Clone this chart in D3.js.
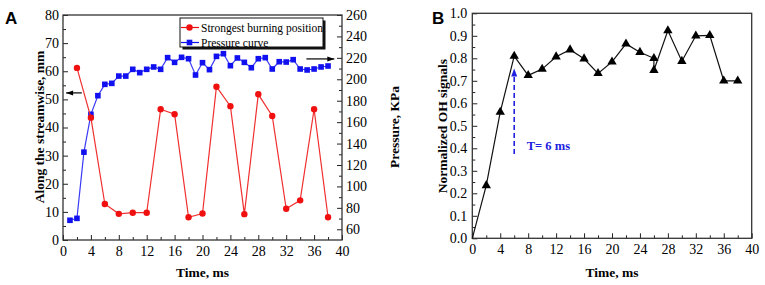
<!DOCTYPE html>
<meta charset="utf-8">
<style>
body { margin: 0; background: #fff; }
.axis path { display: none; }
.axis line { stroke: #222; stroke-width: 1; }
.frame { fill: none; stroke: #333; stroke-width: 1.3; }
</style>
<svg width="765" height="285"></svg>
<script src="https://d3js.org/d3.v7.min.js"></script>
<script>

// panel A data
var burnTime = [2, 4, 6, 8, 10, 12, 14, 16, 18, 20, 22, 24, 26, 28, 30, 32, 34, 36, 38];
var burnPosition = [61.2, 43.5, 12.8, 9.3, 9.7, 9.7, 46.5, 44.7, 8.1, 9.4, 54.5, 47.6, 9.2, 51.8, 44.1, 11.1, 14.1, 46.5, 8.1];
var pressureTime = [1, 2, 3, 4, 5, 6, 7, 8, 9, 10, 11, 12, 13, 14, 15, 16, 17, 18, 19, 20,
                    21, 22, 23, 24, 25, 26, 27, 28, 29, 30, 31, 32, 33, 34, 35, 36, 37, 38];
var pressure = [68.4, 70.2, 132, 167.3, 184.7, 195.3, 196.2, 203, 203, 209.3, 206.2, 209.3, 211.5, 209.3, 220.2, 215.8, 220.5, 219.2, 204, 215.5,
                209, 221.4, 223.9, 212.7, 219.9, 215.8, 210.8, 219.2, 220.2, 209.6, 216.4, 216.1, 218.3, 209.6, 208.7, 209.6, 211.5, 212.4];
var legendLabels = ["Strongest burning position", "Pressure curve"];

// panel B data
var ohTime = [0, 2, 4, 6, 8, 10, 12, 14, 16, 18, 20, 22, 24, 26, 26, 28, 30, 32, 34, 36, 38];
var ohSignal = [0.0, 0.235, 0.561, 0.81, 0.724, 0.752, 0.807, 0.838, 0.798, 0.733, 0.784, 0.864, 0.827, 0.80, 0.747, 0.923, 0.787, 0.90, 0.902, 0.70, 0.70];

var timeTicks = [0, 4, 8, 12, 16, 20, 24, 28, 32, 36, 40];
var timeMinor = [2, 6, 10, 14, 18, 22, 26, 30, 34, 38];

var svg = d3.select("svg");
var red = "#f01010", blue = "#1010f0";
var serif = "'Liberation Serif', 'Times New Roman', serif";

function arrowHead(g, x, y, dir, color) {
  // dir: "left", "right", "up"
  var p;
  if (dir == "left") p = [[x, y], [x + 7, y - 2.5], [x + 7, y + 2.5]];
  else if (dir == "right") p = [[x, y], [x - 7, y - 2.5], [x - 7, y + 2.5]];
  else p = [[x, y], [x - 3, y + 8], [x + 3, y + 8]];
  g.append("path").attr("d", d3.line()(p) + "Z").attr("fill", color);
}

function drawAxis(parent, tx, ty, axis) {
  var g = parent.append("g").attr("class", "axis")
    .attr("transform", "translate(" + tx + "," + ty + ")")
    .call(axis);
  g.selectAll("text")
    .style("font-family", serif).style("font-size", "14px").style("fill", "#000");
  return g;
}

function title(parent, txt, x, y, rotate) {
  return parent.append("text")
    .attr("text-anchor", "middle")
    .attr("transform", "translate(" + x + "," + y + ")" + (rotate ? " rotate(-90)" : ""))
    .style("font-family", serif).style("font-size", "13.5px").style("font-weight", "bold")
    .text(txt);
}

function panelLabel(parent, txt, x, y) {
  parent.append("text").attr("x", x).attr("y", y)
    .style("font-family", "'Liberation Sans', Arial, sans-serif")
    .style("font-size", "17px").style("font-weight", "bold").text(txt);
}

// ---------------- Panel A ----------------
var a = {left: 63, right: 342, top: 15, bottom: 240};
var xA = d3.scaleLinear().domain([0, 40]).range([a.left, a.right]);
var yPos = d3.scaleLinear().domain([0, 80]).range([a.bottom, a.top]);
var yPress = d3.scaleLinear().domain([50, 260]).range([a.bottom, a.top]);

var gA = svg.append("g");

drawAxis(gA, 0, a.bottom, d3.axisBottom(xA).tickValues(timeTicks).tickSizeInner(-5).tickSizeOuter(0).tickPadding(6).tickFormat(d3.format("d")));
drawAxis(gA, 0, a.bottom, d3.axisBottom(xA).tickValues(timeMinor).tickSizeInner(-3).tickSizeOuter(0).tickFormat(""));
drawAxis(gA, a.left, 0, d3.axisLeft(yPos).tickValues(d3.range(0, 81, 10)).tickSizeInner(-5).tickSizeOuter(0).tickPadding(4));
drawAxis(gA, a.left, 0, d3.axisLeft(yPos).tickValues(d3.range(5, 80, 10)).tickSizeInner(-3).tickSizeOuter(0).tickFormat(""));
drawAxis(gA, a.right, 0, d3.axisRight(yPress).tickValues(d3.range(60, 261, 20)).tickSizeInner(-5).tickSizeOuter(0).tickPadding(4));
drawAxis(gA, a.right, 0, d3.axisRight(yPress).tickValues(d3.range(70, 260, 20)).tickSizeInner(-3).tickSizeOuter(0).tickFormat(""));

gA.append("rect").attr("class", "frame")
  .attr("x", a.left).attr("y", a.top).attr("width", a.right - a.left).attr("height", a.bottom - a.top);

// pressure curve
gA.append("path")
  .datum(pressureTime.map(function(t, i) { return [xA(t), yPress(pressure[i])]; }))
  .attr("d", d3.line()).attr("fill", "none").attr("stroke", "#3a3af5").attr("stroke-width", 1.2);
gA.selectAll(".sq").data(pressureTime).enter().append("rect")
  .attr("x", function(t) { return xA(t) - 2.8; })
  .attr("y", function(t, i) { return yPress(pressure[i]) - 2.8; })
  .attr("width", 5.6).attr("height", 5.6).attr("fill", blue);

// burning position
gA.append("path")
  .datum(burnTime.map(function(t, i) { return [xA(t), yPos(burnPosition[i])]; }))
  .attr("d", d3.line()).attr("fill", "none").attr("stroke", "#f03030").attr("stroke-width", 1.2);
gA.selectAll(".dot").data(burnTime).enter().append("circle")
  .attr("cx", function(t) { return xA(t); })
  .attr("cy", function(t, i) { return yPos(burnPosition[i]); })
  .attr("r", 3.2).attr("fill", red);

// axis arrows
var arrA = gA.append("g");
arrA.append("line").attr("x1", xA(0.45)).attr("x2", xA(2.7)).attr("y1", yPos(52.3)).attr("y2", yPos(52.3))
  .attr("stroke", "#000").attr("stroke-width", 1.2);
arrowHead(arrA, xA(0.45), yPos(52.3), "left", "#000");
arrA.append("line").attr("x1", xA(34.9)).attr("x2", xA(38.9)).attr("y1", yPress(219)).attr("y2", yPress(219))
  .attr("stroke", "#000").attr("stroke-width", 1.2);
arrowHead(arrA, xA(38.9), yPress(219), "right", "#000");

// legend
var leg = gA.append("g").attr("transform", "translate(180,18)");
leg.append("rect").attr("x", 2.5).attr("y", 2.5).attr("width", 143).attr("height", 29).attr("fill", "#111");
leg.append("rect").attr("x", 0).attr("y", 0).attr("width", 143).attr("height", 29).attr("fill", "#fff").attr("stroke", "#111").attr("stroke-width", 1);
legendLabels.forEach(function(lbl, i) {
  var y = 9.5 + i * 15, c = i == 0 ? red : blue;
  leg.append("line").attr("x1", 1).attr("x2", 19).attr("y1", y).attr("y2", y).attr("stroke", c).attr("stroke-width", 1.2);
  if (i == 0) leg.append("circle").attr("cx", 9.5).attr("cy", y).attr("r", 3.2).attr("fill", c);
  else leg.append("rect").attr("x", 6.7).attr("y", y - 2.8).attr("width", 5.6).attr("height", 5.6).attr("fill", c);
  leg.append("text").attr("x", 21).attr("y", y + 4)
    .style("font-family", serif).style("font-size", "11.5px").text(lbl);
});

title(gA, "Along the streamwise, mm", 44, 127, true);
title(gA, "Pressure, KPa", 399, 127, true);
title(gA, "Time, ms", (a.left + a.right) / 2, 277, false);
panelLabel(gA, "A", 5, 24);

// ---------------- Panel B ----------------
var b = {left: 472.3, right: 751.7, top: 13.3, bottom: 238.3};
var xB = d3.scaleLinear().domain([0, 40]).range([b.left, b.right]);
var yOH = d3.scaleLinear().domain([0, 1]).range([b.bottom, b.top]);

var gB = svg.append("g");

drawAxis(gB, 0, b.bottom, d3.axisBottom(xB).tickValues(timeTicks).tickSizeInner(-5).tickSizeOuter(0).tickPadding(6).tickFormat(d3.format("d")));
drawAxis(gB, 0, b.bottom, d3.axisBottom(xB).tickValues(timeMinor).tickSizeInner(-3).tickSizeOuter(0).tickFormat(""));
drawAxis(gB, b.left, 0, d3.axisLeft(yOH).tickValues(d3.range(0, 11).map(function(d) { return d / 10; }))
  .tickSizeInner(-5).tickSizeOuter(0).tickPadding(5).tickFormat(d3.format(".1f")));
drawAxis(gB, b.left, 0, d3.axisLeft(yOH).tickValues(d3.range(0, 10).map(function(d) { return d / 10 + 0.05; }))
  .tickSizeInner(-3).tickSizeOuter(0).tickFormat(""));

gB.append("rect").attr("class", "frame")
  .attr("x", b.left).attr("y", b.top).attr("width", b.right - b.left).attr("height", b.bottom - b.top);

gB.append("path")
  .datum(ohTime.map(function(t, i) { return [xB(t), yOH(ohSignal[i])]; }))
  .attr("d", d3.line()).attr("fill", "none").attr("stroke", "#111").attr("stroke-width", 1.2);
gB.selectAll(".tri").data(ohTime.slice(1)).enter().append("path")
  .attr("d", d3.symbol().type(d3.symbolTriangle).size(38))
  .attr("transform", function(t, i) { return "translate(" + xB(t) + "," + yOH(ohSignal[i + 1]) + ")"; })
  .attr("fill", "#000");

// T = 6 ms marker
var tMark = gB.append("g");
tMark.append("line").attr("x1", xB(6)).attr("x2", xB(6)).attr("y1", yOH(0.375)).attr("y2", yOH(0.74))
  .attr("stroke", "#2020e0").attr("stroke-width", 1.6).attr("stroke-dasharray", "5,3");
arrowHead(tMark, xB(6), yOH(0.755), "up", "#2020e0");
tMark.append("text").attr("x", xB(7.8)).attr("y", 150)
  .style("font-family", serif).style("fill", "#2020e0").style("font-size", "12.5px").style("font-weight", "bold")
  .text("T= 6 ms");

title(gB, "Normalized OH signals", 447, 126, true);
title(gB, "Time, ms", (b.left + b.right) / 2, 277, false);
panelLabel(gB, "B", 432, 24);

</script>
